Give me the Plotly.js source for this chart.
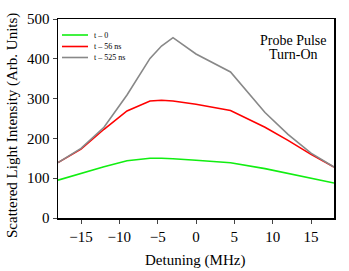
<!DOCTYPE html>
<html>
<head>
<meta charset="utf-8">
<script src="https://cdn.plot.ly/plotly-3.0.1.min.js"></script>
<style>html,body{margin:0;padding:0;background:#fff;}#chart{width:349px;height:271px;}</style>
</head>
<body>
<div id="chart"></div>
<script>
var detuning = [-18, -15, -12, -9, -6, -4.5, -3, 0, 4.5, 9, 12, 15, 18];
var t0 = [95, 112, 129, 144, 150, 150, 149, 145, 139, 124, 112, 101, 88];
var t56 = [139, 173, 223, 269, 294, 296, 294, 286, 270, 228, 195, 160, 128];
var t525 = [139, 175, 228, 309, 401, 432, 453, 412, 367, 265, 210, 163, 128];
var seriesNames = ['t \u2013 0', 't \u2013 56 ns', 't \u2013 525 ns'];
var xTicks = [-15, -10, -5, 0, 5, 10, 15];
var yTicks = [0, 100, 200, 300, 400, 500];

var font = 'Liberation Serif';
var colors = ['#11ee11', '#ff0000', '#888888'];
var ys = [t0, t56, t525];
var traces = ys.map(function (y, i) {
  return {x: detuning, y: y, type: 'scatter', mode: 'lines', name: seriesNames[i],
          showlegend: false, line: {color: colors[i], width: 1.6}};
});

// plot area in pixels: left 58, right 334, top 19, bottom 218
function px(x) { return (x - 58) / 276; }
function py(y) { return (218 - y) / 199; }

var shapes = [];
var annotations = [];
var rowY = [35, 46.5, 57.5];
for (var i = 0; i < 3; i++) {
  shapes.push({type: 'line', xref: 'paper', yref: 'paper', x0: px(62), x1: px(88),
               y0: py(rowY[i]), y1: py(rowY[i]), line: {color: colors[i], width: 1.6}});
  annotations.push({text: seriesNames[i], xref: 'paper', yref: 'paper', x: px(92), y: py(rowY[i]),
                    xanchor: 'left', yanchor: 'middle', showarrow: false,
                    font: {family: font, size: 8, color: '#000'}});
}
annotations.push({text: 'Probe Pulse', xref: 'paper', yref: 'paper', x: px(293), y: py(40),
                  xanchor: 'center', yanchor: 'middle', showarrow: false,
                  font: {family: font, size: 14, color: '#000'}});
annotations.push({text: 'Turn-On', xref: 'paper', yref: 'paper', x: px(293), y: py(54),
                  xanchor: 'center', yanchor: 'middle', showarrow: false,
                  font: {family: font, size: 14, color: '#000'}});
annotations.push({text: 'Scattered Light Intensity (Arb. Units)', xref: 'paper', yref: 'paper',
                  x: px(12), y: py(126), xanchor: 'center', yanchor: 'middle', textangle: -90,
                  showarrow: false, font: {family: font, size: 15, color: '#000'}});
annotations.push({text: 'Detuning (MHz)', xref: 'paper', yref: 'paper',
                  x: px(195), y: py(260), xanchor: 'center', yanchor: 'middle',
                  showarrow: false, font: {family: font, size: 15, color: '#000'}});

var layout = {
  width: 349, height: 271,
  margin: {l: 58, r: 15, t: 19, b: 53},
  paper_bgcolor: '#fff', plot_bgcolor: '#fff',
  font: {family: 'Liberation Serif, serif', color: '#000', size: 15},
  showlegend: false,
  xaxis: {range: [-18, 18], tickvals: xTicks, ticks: 'outside', ticklen: 4, tickwidth: 1,
          showgrid: false, zeroline: false, showline: true, linewidth: 1.5, linecolor: '#000',
          mirror: true, tickfont: {family: 'Liberation Serif, serif', size: 15, color: '#000'}},
  yaxis: {range: [0, 500], tickvals: yTicks, ticks: 'outside', ticklen: 4, tickwidth: 1,
          showgrid: false, zeroline: false, showline: true, linewidth: 1.5, linecolor: '#000',
          mirror: true, tickfont: {family: 'Liberation Serif, serif', size: 15, color: '#000'}},
  shapes: shapes,
  annotations: annotations
};
Plotly.newPlot('chart', traces, layout, {displayModeBar: false, staticPlot: true});
</script>
</body>
</html>
